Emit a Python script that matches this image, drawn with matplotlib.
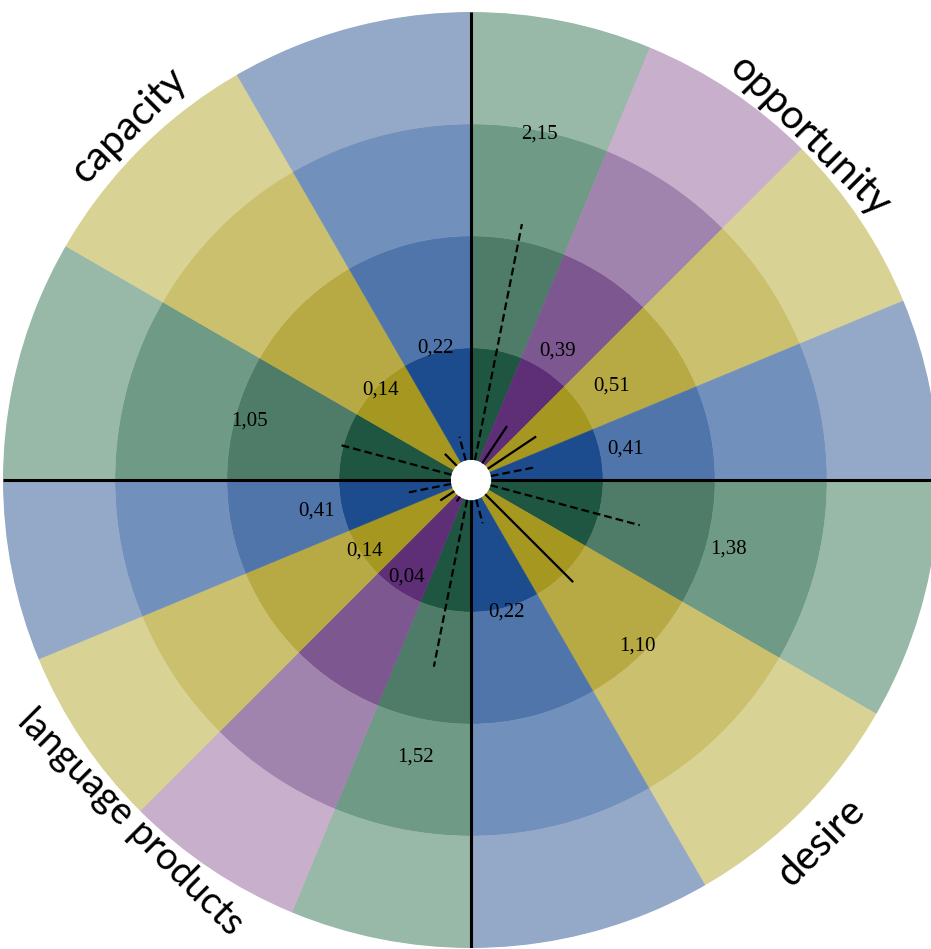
import numpy as np
import matplotlib
matplotlib.use('Agg')
import matplotlib.pyplot as plt

# Quadrants, clockwise from 12 o'clock
categories = ['opportunity', 'desire', 'language products', 'capacity']
sectors_per_quadrant = [4, 3, 4, 3]

# Sectors, clockwise from 12 o'clock
sector_hues = ['green', 'purple', 'yellow', 'blue',
               'green', 'yellow', 'blue',
               'green', 'purple', 'yellow', 'blue',
               'green', 'yellow', 'blue']
values = [2.15, 0.39, 0.51, 0.41,
          1.38, 1.10, 0.22,
          1.52, 0.04, 0.14, 0.41,
          1.05, 0.14, 0.22]

ring_edges = [0, 1, 2, 3, 4]

# inner ring -> outer ring
palette = {
    'green': ['#1e5642', '#4e7c68', '#6f9a86', '#98b8a8'],
    'purple': ['#5e2e76', '#7c5790', '#a084ad', '#c8afcb'],
    'yellow': ['#a5971f', '#b7a943', '#cbc06e', '#d8d394'],
    'blue': ['#1d4c8e', '#4f75ab', '#7190bb', '#94a8c7'],
}
dashed_hues = {'green', 'blue'}

W, H = 931, 949
cx, cy = 471, 469          # center, pixels from bottom-left
R = 468                    # outer radius in pixels

fig = plt.figure(figsize=(W / 100, H / 100), dpi=100)
ax = fig.add_axes([(cx - R) / W, (cy - R) / H, 2 * R / W, 2 * R / H],
                  projection='polar')
ax.set_theta_zero_location('N')
ax.set_theta_direction(-1)
ax.set_rorigin(-0.18)
ax.set_ylim(0, 4)
ax.set_axis_off()

# sector angles
starts, widths = [], []
q_start = 0.0
for n in sectors_per_quadrant:
    w = 90.0 / n
    for i in range(n):
        starts.append(q_start + i * w)
        widths.append(w)
    q_start += 90.0
starts = np.radians(starts)
widths = np.radians(widths)
mids = starts + widths / 2

# rings
for th, w, hue in zip(starts, widths, sector_hues):
    for k in range(4):
        c = palette[hue][k]
        ax.bar(th, ring_edges[k + 1] - ring_edges[k], width=w,
               bottom=ring_edges[k], align='edge', color=c,
               edgecolor=c, linewidth=0.4)

# quadrant divider lines
for a in [0, 90, 180, 270]:
    ax.plot([np.radians(a)] * 2, [0, 4], color='black', lw=2.2,
            solid_capstyle='butt')

# value lines and labels
for th, v, hue in zip(mids, values, sector_hues):
    ls = (0, (3.5, 1.8)) if hue in dashed_hues else '-'
    ax.plot([th, th], [0, v], color='black', lw=1.6, linestyle=ls)
    ax.text(th, v + 0.82, f'{v:.2f}'.replace('.', ','), ha='center',
            va='center', fontsize=15, family='Liberation Serif',
            color='black')

# category labels around the rim
label_pos = [(44.5, 4.13, -45), (136, 4.32, 45), (224.8, 4.13, -45),
             (-44, 4.22, 45)]
label_size = [29, 29, 27, 29]
for name, (ang, r, rot), fs in zip(categories, label_pos, label_size):
    ax.text(np.radians(ang), r, name, ha='center', va='center',
            rotation=rot, rotation_mode='anchor', fontsize=fs,
            family='Lato', color='black', clip_on=False)

fig.savefig('out.png', dpi=100, facecolor='white')
